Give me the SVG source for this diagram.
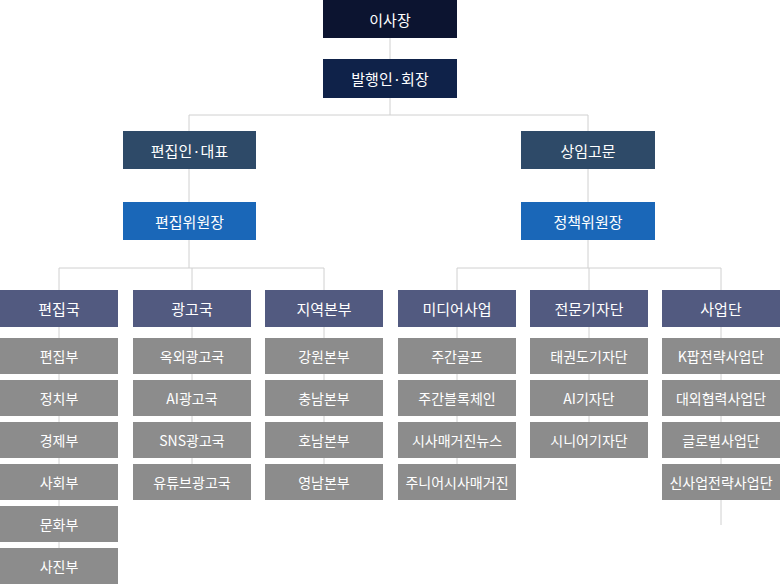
<svg xmlns="http://www.w3.org/2000/svg" width="780" height="584" viewBox="0 0 780 584">
<style>
text{font-family:"Noto Sans CJK KR","Noto Sans",sans-serif;font-size:14px;fill:#fff;text-anchor:middle;dominant-baseline:central}
.t text{font-size:15px}
.c line{stroke:#d0d0d0;stroke-width:1}
.k1{fill:#0c1430}.k2{fill:#0f2249}.k3{fill:#2e4a68}.k4{fill:#1a67b8}.d{fill:#525a80}.s{fill:#8c8c8c}
</style>
<rect width="780" height="584" fill="#fff"/>
<g class="c">
<line x1="390" y1="38" x2="390" y2="115"/>
<line x1="189" y1="115" x2="588" y2="115"/>
<line x1="189" y1="115" x2="189" y2="268"/>
<line x1="588" y1="115" x2="588" y2="268"/>
<line x1="59" y1="268" x2="324" y2="268"/>
<line x1="457" y1="268" x2="721" y2="268"/>
<line x1="59" y1="268" x2="59" y2="580"/>
<line x1="192" y1="268" x2="192" y2="480"/>
<line x1="324" y1="268" x2="324" y2="480"/>
<line x1="457" y1="268" x2="457" y2="480"/>
<line x1="589" y1="268" x2="589" y2="440"/>
<line x1="721" y1="268" x2="721" y2="525"/>
</g>
<g class="t">
<g id="n1"><rect class="k1" x="323" y="0" width="134" height="38"/><text x="390" y="19">이사장</text></g>
<g id="n2"><rect class="k2" x="323" y="59" width="134" height="39"/><text x="390" y="78.5">발행인·회장</text></g>
<g id="n3"><rect class="k3" x="123" y="131" width="133" height="38"/><text x="189.5" y="150">편집인·대표</text></g>
<g id="n4"><rect class="k3" x="521" y="131" width="134" height="38"/><text x="588" y="150">상임고문</text></g>
<g id="n5"><rect class="k4" x="123" y="202" width="133" height="38"/><text x="189.5" y="221">편집위원장</text></g>
<g id="n6"><rect class="k4" x="521" y="202" width="134" height="38"/><text x="588" y="221">정책위원장</text></g>
<g id="d1"><rect class="d" x="0" y="290" width="118" height="37"/><text x="59" y="308.5">편집국</text></g>
<g id="d2"><rect class="d" x="133" y="290" width="118" height="37"/><text x="192" y="308.5">광고국</text></g>
<g id="d3"><rect class="d" x="265" y="290" width="118" height="37"/><text x="324" y="308.5">지역본부</text></g>
<g id="d4"><rect class="d" x="398" y="290" width="118" height="37"/><text x="457" y="308.5">미디어사업</text></g>
<g id="d5"><rect class="d" x="530" y="290" width="118" height="37"/><text x="589" y="308.5">전문기자단</text></g>
<g id="d6"><rect class="d" x="662" y="290" width="118" height="37"/><text x="721" y="308.5">사업단</text></g>
</g>
<g id="c1">
<g><rect class="s" x="0" y="338" width="118" height="36"/><text x="59" y="356">편집부</text></g>
<g><rect class="s" x="0" y="380" width="118" height="36"/><text x="59" y="398">정치부</text></g>
<g><rect class="s" x="0" y="422" width="118" height="36"/><text x="59" y="440">경제부</text></g>
<g><rect class="s" x="0" y="464" width="118" height="36"/><text x="59" y="482">사회부</text></g>
<g><rect class="s" x="0" y="506" width="118" height="36"/><text x="59" y="524">문화부</text></g>
<g><rect class="s" x="0" y="548" width="118" height="36"/><text x="59" y="566">사진부</text></g>
</g>
<g id="c2">
<g><rect class="s" x="133" y="338" width="118" height="36"/><text x="192" y="356">옥외광고국</text></g>
<g><rect class="s" x="133" y="380" width="118" height="36"/><text x="192" y="398">AI광고국</text></g>
<g><rect class="s" x="133" y="422" width="118" height="36"/><text x="192" y="440">SNS광고국</text></g>
<g><rect class="s" x="133" y="464" width="118" height="36"/><text x="192" y="482">유튜브광고국</text></g>
</g>
<g id="c3">
<g><rect class="s" x="265" y="338" width="118" height="36"/><text x="324" y="356">강원본부</text></g>
<g><rect class="s" x="265" y="380" width="118" height="36"/><text x="324" y="398">충남본부</text></g>
<g><rect class="s" x="265" y="422" width="118" height="36"/><text x="324" y="440">호남본부</text></g>
<g><rect class="s" x="265" y="464" width="118" height="36"/><text x="324" y="482">영남본부</text></g>
</g>
<g id="c4">
<g><rect class="s" x="398" y="338" width="118" height="36"/><text x="457" y="356">주간골프</text></g>
<g><rect class="s" x="398" y="380" width="118" height="36"/><text x="457" y="398">주간블록체인</text></g>
<g><rect class="s" x="398" y="422" width="118" height="36"/><text x="457" y="440">시사매거진뉴스</text></g>
<g><rect class="s" x="398" y="464" width="118" height="36"/><text x="457" y="482">주니어시사매거진</text></g>
</g>
<g id="c5">
<g><rect class="s" x="530" y="338" width="118" height="36"/><text x="589" y="356">태권도기자단</text></g>
<g><rect class="s" x="530" y="380" width="118" height="36"/><text x="589" y="398">AI기자단</text></g>
<g><rect class="s" x="530" y="422" width="118" height="36"/><text x="589" y="440">시니어기자단</text></g>
</g>
<g id="c6">
<g><rect class="s" x="662" y="338" width="118" height="36"/><text x="721" y="356">K팝전략사업단</text></g>
<g><rect class="s" x="662" y="380" width="118" height="36"/><text x="721" y="398">대외협력사업단</text></g>
<g><rect class="s" x="662" y="422" width="118" height="36"/><text x="721" y="440">글로벌사업단</text></g>
<g><rect class="s" x="662" y="464" width="118" height="36"/><text x="721" y="482">신사업전략사업단</text></g>
</g>
</svg>
